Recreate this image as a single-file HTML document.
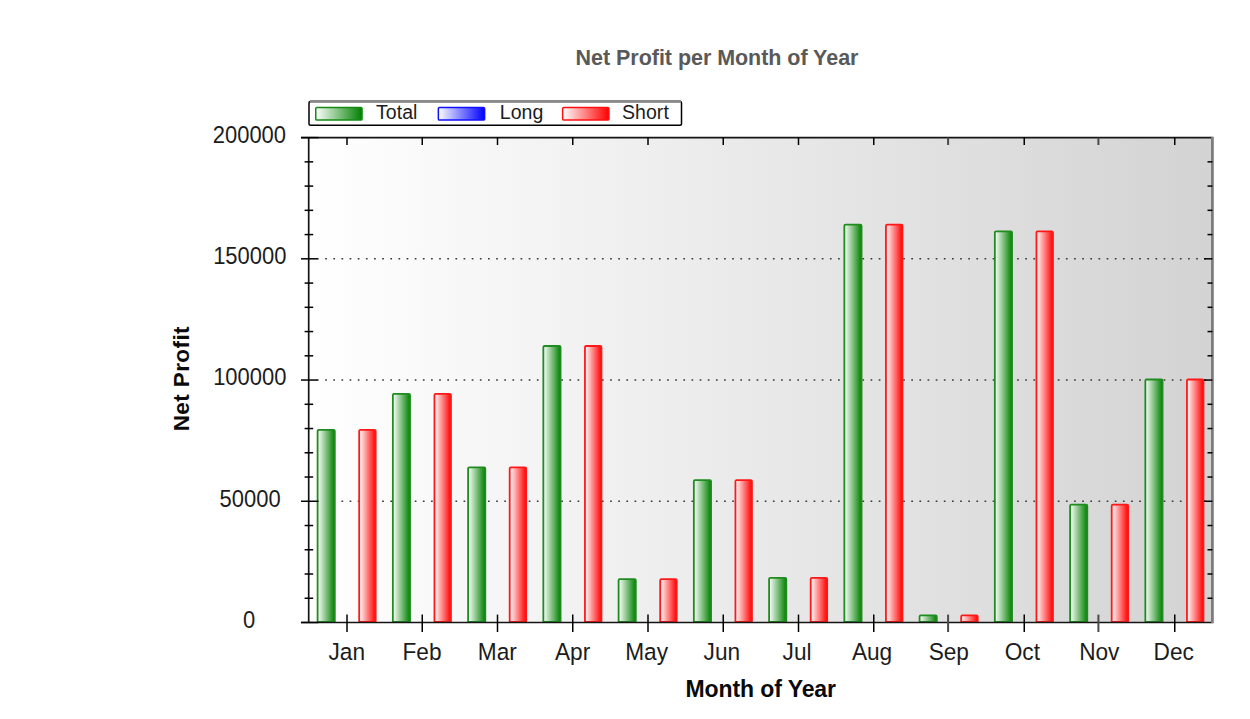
<!DOCTYPE html>
<html><head><meta charset="utf-8"><style>
html,body{margin:0;padding:0;background:#fff;}
svg{display:block;}
text{font-family:"Liberation Sans",sans-serif;}
.lab{font-size:23.5px;fill:#1c1c1c;}
.xlab{font-size:23.5px;fill:#1c1c1c;}
.ttl{font-size:23px;font-weight:bold;fill:#0a0a0a;}
.xt{letter-spacing:-0.1px;}
.yt{letter-spacing:0.4px;font-size:22.5px;}
.main{font-size:21.5px;font-weight:bold;fill:#595959;letter-spacing:-0.04px;}
.leg{font-size:19.5px;fill:#1c1c1c;letter-spacing:0.05px;}
</style></head><body>
<svg width="1250" height="719" viewBox="0 0 1250 719">
<defs>
<linearGradient id="bg" x1="0" y1="0" x2="1" y2="0"><stop offset="0" stop-color="#ffffff"/><stop offset="1" stop-color="#d3d3d3"/></linearGradient>
<linearGradient id="gg" x1="0" y1="0" x2="1" y2="0"><stop offset="0" stop-color="#ffffff"/><stop offset="1" stop-color="#008000"/></linearGradient>
<linearGradient id="gr" x1="0" y1="0" x2="1" y2="0"><stop offset="0" stop-color="#ffffff"/><stop offset="1" stop-color="#ff0000"/></linearGradient>
<linearGradient id="lg" x1="0" y1="0" x2="1" y2="0"><stop offset="0" stop-color="#ffffff"/><stop offset="1" stop-color="#008000"/></linearGradient>
<linearGradient id="lb" x1="0" y1="0" x2="1" y2="0"><stop offset="0" stop-color="#ffffff"/><stop offset="1" stop-color="#0000ff"/></linearGradient>
<linearGradient id="lr" x1="0" y1="0" x2="1" y2="0"><stop offset="0" stop-color="#ffffff"/><stop offset="1" stop-color="#ff0000"/></linearGradient>
</defs>
<rect width="1250" height="719" fill="#fff"/>
<rect x="308.7" y="137.6" width="903.7" height="484.9" fill="url(#bg)"/>
<line x1="325.2" y1="501.27" x2="1206" y2="501.27" stroke="#3a3a3a" stroke-width="1.5" stroke-dasharray="1.7 6.44"/>
<line x1="325.2" y1="380.05" x2="1206" y2="380.05" stroke="#3a3a3a" stroke-width="1.5" stroke-dasharray="1.7 6.44"/>
<line x1="325.2" y1="258.82" x2="1206" y2="258.82" stroke="#3a3a3a" stroke-width="1.5" stroke-dasharray="1.7 6.44"/>
<path d="M317.60 621.90 V431.10 Q317.60 429.90 318.80 429.90 H333.60 Q334.80 429.90 334.80 431.10 V621.90 Z" fill="url(#gg)" stroke="#1e8c1e" stroke-width="1.8"/>
<path d="M359.20 621.90 V431.10 Q359.20 429.90 360.40 429.90 H374.50 Q375.70 429.90 375.70 431.10 V621.90 Z" fill="url(#gr)" stroke="#ff1818" stroke-width="1.8"/>
<path d="M392.85 621.90 V395.10 Q392.85 393.90 394.05 393.90 H408.85 Q410.05 393.90 410.05 395.10 V621.90 Z" fill="url(#gg)" stroke="#1e8c1e" stroke-width="1.8"/>
<path d="M434.45 621.90 V395.10 Q434.45 393.90 435.65 393.90 H449.75 Q450.95 393.90 450.95 395.10 V621.90 Z" fill="url(#gr)" stroke="#ff1818" stroke-width="1.8"/>
<path d="M468.10 621.90 V468.50 Q468.10 467.30 469.30 467.30 H484.10 Q485.30 467.30 485.30 468.50 V621.90 Z" fill="url(#gg)" stroke="#1e8c1e" stroke-width="1.8"/>
<path d="M509.70 621.90 V468.50 Q509.70 467.30 510.90 467.30 H525.00 Q526.20 467.30 526.20 468.50 V621.90 Z" fill="url(#gr)" stroke="#ff1818" stroke-width="1.8"/>
<path d="M543.35 621.90 V347.20 Q543.35 346.00 544.55 346.00 H559.35 Q560.55 346.00 560.55 347.20 V621.90 Z" fill="url(#gg)" stroke="#1e8c1e" stroke-width="1.8"/>
<path d="M584.95 621.90 V347.20 Q584.95 346.00 586.15 346.00 H600.25 Q601.45 346.00 601.45 347.20 V621.90 Z" fill="url(#gr)" stroke="#ff1818" stroke-width="1.8"/>
<path d="M618.60 621.90 V580.30 Q618.60 579.10 619.80 579.10 H634.60 Q635.80 579.10 635.80 580.30 V621.90 Z" fill="url(#gg)" stroke="#1e8c1e" stroke-width="1.8"/>
<path d="M660.20 621.90 V580.30 Q660.20 579.10 661.40 579.10 H675.50 Q676.70 579.10 676.70 580.30 V621.90 Z" fill="url(#gr)" stroke="#ff1818" stroke-width="1.8"/>
<path d="M693.85 621.90 V481.30 Q693.85 480.10 695.05 480.10 H709.85 Q711.05 480.10 711.05 481.30 V621.90 Z" fill="url(#gg)" stroke="#1e8c1e" stroke-width="1.8"/>
<path d="M735.45 621.90 V481.30 Q735.45 480.10 736.65 480.10 H750.75 Q751.95 480.10 751.95 481.30 V621.90 Z" fill="url(#gr)" stroke="#ff1818" stroke-width="1.8"/>
<path d="M769.10 621.90 V579.00 Q769.10 577.80 770.30 577.80 H785.10 Q786.30 577.80 786.30 579.00 V621.90 Z" fill="url(#gg)" stroke="#1e8c1e" stroke-width="1.8"/>
<path d="M810.70 621.90 V579.00 Q810.70 577.80 811.90 577.80 H826.00 Q827.20 577.80 827.20 579.00 V621.90 Z" fill="url(#gr)" stroke="#ff1818" stroke-width="1.8"/>
<path d="M844.35 621.90 V225.90 Q844.35 224.70 845.55 224.70 H860.35 Q861.55 224.70 861.55 225.90 V621.90 Z" fill="url(#gg)" stroke="#1e8c1e" stroke-width="1.8"/>
<path d="M885.95 621.90 V225.90 Q885.95 224.70 887.15 224.70 H901.25 Q902.45 224.70 902.45 225.90 V621.90 Z" fill="url(#gr)" stroke="#ff1818" stroke-width="1.8"/>
<path d="M919.60 621.90 V616.60 Q919.60 615.40 920.80 615.40 H935.60 Q936.80 615.40 936.80 616.60 V621.90 Z" fill="url(#gg)" stroke="#1e8c1e" stroke-width="1.8"/>
<path d="M961.20 621.90 V616.60 Q961.20 615.40 962.40 615.40 H976.50 Q977.70 615.40 977.70 616.60 V621.90 Z" fill="url(#gr)" stroke="#ff1818" stroke-width="1.8"/>
<path d="M994.85 621.90 V232.50 Q994.85 231.30 996.05 231.30 H1010.85 Q1012.05 231.30 1012.05 232.50 V621.90 Z" fill="url(#gg)" stroke="#1e8c1e" stroke-width="1.8"/>
<path d="M1036.45 621.90 V232.50 Q1036.45 231.30 1037.65 231.30 H1051.75 Q1052.95 231.30 1052.95 232.50 V621.90 Z" fill="url(#gr)" stroke="#ff1818" stroke-width="1.8"/>
<path d="M1070.10 621.90 V505.90 Q1070.10 504.70 1071.30 504.70 H1086.10 Q1087.30 504.70 1087.30 505.90 V621.90 Z" fill="url(#gg)" stroke="#1e8c1e" stroke-width="1.8"/>
<path d="M1111.70 621.90 V505.90 Q1111.70 504.70 1112.90 504.70 H1127.00 Q1128.20 504.70 1128.20 505.90 V621.90 Z" fill="url(#gr)" stroke="#ff1818" stroke-width="1.8"/>
<path d="M1145.35 621.90 V380.70 Q1145.35 379.50 1146.55 379.50 H1161.35 Q1162.55 379.50 1162.55 380.70 V621.90 Z" fill="url(#gg)" stroke="#1e8c1e" stroke-width="1.8"/>
<path d="M1186.95 621.90 V380.70 Q1186.95 379.50 1188.15 379.50 H1202.25 Q1203.45 379.50 1203.45 380.70 V621.90 Z" fill="url(#gr)" stroke="#ff1818" stroke-width="1.8"/>
<line x1="301" y1="137.6" x2="1212.4" y2="137.6" stroke="#141414" stroke-width="1.7"/>
<line x1="301" y1="622.5" x2="1212.4" y2="622.5" stroke="#141414" stroke-width="1.7"/>
<line x1="308.7" y1="137.6" x2="308.7" y2="622.5" stroke="#141414" stroke-width="1.7"/>
<line x1="1212.4" y1="136.79999999999998" x2="1212.4" y2="623.3" stroke="#7d7d7d" stroke-width="2.8"/>
<line x1="301" y1="622.50" x2="318.5" y2="622.50" stroke="#000" stroke-width="1.5"/>
<line x1="304.6" y1="598.25" x2="313.2" y2="598.25" stroke="#000" stroke-width="1.5"/>
<line x1="1207.5" y1="598.25" x2="1212.4" y2="598.25" stroke="#000" stroke-width="1.5"/>
<line x1="304.6" y1="574.01" x2="313.2" y2="574.01" stroke="#000" stroke-width="1.5"/>
<line x1="1207.5" y1="574.01" x2="1212.4" y2="574.01" stroke="#000" stroke-width="1.5"/>
<line x1="304.6" y1="549.76" x2="313.2" y2="549.76" stroke="#000" stroke-width="1.5"/>
<line x1="1207.5" y1="549.76" x2="1212.4" y2="549.76" stroke="#000" stroke-width="1.5"/>
<line x1="304.6" y1="525.52" x2="313.2" y2="525.52" stroke="#000" stroke-width="1.5"/>
<line x1="1207.5" y1="525.52" x2="1212.4" y2="525.52" stroke="#000" stroke-width="1.5"/>
<line x1="301" y1="501.27" x2="318.5" y2="501.27" stroke="#000" stroke-width="1.5"/>
<line x1="1204" y1="501.27" x2="1212.4" y2="501.27" stroke="#000" stroke-width="1.5"/>
<line x1="304.6" y1="477.03" x2="313.2" y2="477.03" stroke="#000" stroke-width="1.5"/>
<line x1="1207.5" y1="477.03" x2="1212.4" y2="477.03" stroke="#000" stroke-width="1.5"/>
<line x1="304.6" y1="452.78" x2="313.2" y2="452.78" stroke="#000" stroke-width="1.5"/>
<line x1="1207.5" y1="452.78" x2="1212.4" y2="452.78" stroke="#000" stroke-width="1.5"/>
<line x1="304.6" y1="428.54" x2="313.2" y2="428.54" stroke="#000" stroke-width="1.5"/>
<line x1="1207.5" y1="428.54" x2="1212.4" y2="428.54" stroke="#000" stroke-width="1.5"/>
<line x1="304.6" y1="404.29" x2="313.2" y2="404.29" stroke="#000" stroke-width="1.5"/>
<line x1="1207.5" y1="404.29" x2="1212.4" y2="404.29" stroke="#000" stroke-width="1.5"/>
<line x1="301" y1="380.05" x2="318.5" y2="380.05" stroke="#000" stroke-width="1.5"/>
<line x1="1204" y1="380.05" x2="1212.4" y2="380.05" stroke="#000" stroke-width="1.5"/>
<line x1="304.6" y1="355.81" x2="313.2" y2="355.81" stroke="#000" stroke-width="1.5"/>
<line x1="1207.5" y1="355.81" x2="1212.4" y2="355.81" stroke="#000" stroke-width="1.5"/>
<line x1="304.6" y1="331.56" x2="313.2" y2="331.56" stroke="#000" stroke-width="1.5"/>
<line x1="1207.5" y1="331.56" x2="1212.4" y2="331.56" stroke="#000" stroke-width="1.5"/>
<line x1="304.6" y1="307.31" x2="313.2" y2="307.31" stroke="#000" stroke-width="1.5"/>
<line x1="1207.5" y1="307.31" x2="1212.4" y2="307.31" stroke="#000" stroke-width="1.5"/>
<line x1="304.6" y1="283.07" x2="313.2" y2="283.07" stroke="#000" stroke-width="1.5"/>
<line x1="1207.5" y1="283.07" x2="1212.4" y2="283.07" stroke="#000" stroke-width="1.5"/>
<line x1="301" y1="258.82" x2="318.5" y2="258.82" stroke="#000" stroke-width="1.5"/>
<line x1="1204" y1="258.82" x2="1212.4" y2="258.82" stroke="#000" stroke-width="1.5"/>
<line x1="304.6" y1="234.58" x2="313.2" y2="234.58" stroke="#000" stroke-width="1.5"/>
<line x1="1207.5" y1="234.58" x2="1212.4" y2="234.58" stroke="#000" stroke-width="1.5"/>
<line x1="304.6" y1="210.33" x2="313.2" y2="210.33" stroke="#000" stroke-width="1.5"/>
<line x1="1207.5" y1="210.33" x2="1212.4" y2="210.33" stroke="#000" stroke-width="1.5"/>
<line x1="304.6" y1="186.09" x2="313.2" y2="186.09" stroke="#000" stroke-width="1.5"/>
<line x1="1207.5" y1="186.09" x2="1212.4" y2="186.09" stroke="#000" stroke-width="1.5"/>
<line x1="304.6" y1="161.85" x2="313.2" y2="161.85" stroke="#000" stroke-width="1.5"/>
<line x1="1207.5" y1="161.85" x2="1212.4" y2="161.85" stroke="#000" stroke-width="1.5"/>
<line x1="301" y1="137.60" x2="318.5" y2="137.60" stroke="#000" stroke-width="1.5"/>
<line x1="347.00" y1="137.6" x2="347.00" y2="145" stroke="#000" stroke-width="1.5"/>
<line x1="347.00" y1="614.6" x2="347.00" y2="632" stroke="#000" stroke-width="1.5"/>
<line x1="422.25" y1="137.6" x2="422.25" y2="145" stroke="#000" stroke-width="1.5"/>
<line x1="422.25" y1="614.6" x2="422.25" y2="632" stroke="#000" stroke-width="1.5"/>
<line x1="497.50" y1="137.6" x2="497.50" y2="145" stroke="#000" stroke-width="1.5"/>
<line x1="497.50" y1="614.6" x2="497.50" y2="632" stroke="#000" stroke-width="1.5"/>
<line x1="572.75" y1="137.6" x2="572.75" y2="145" stroke="#000" stroke-width="1.5"/>
<line x1="572.75" y1="614.6" x2="572.75" y2="632" stroke="#000" stroke-width="1.5"/>
<line x1="648.00" y1="137.6" x2="648.00" y2="145" stroke="#000" stroke-width="1.5"/>
<line x1="648.00" y1="614.6" x2="648.00" y2="632" stroke="#000" stroke-width="1.5"/>
<line x1="723.25" y1="137.6" x2="723.25" y2="145" stroke="#000" stroke-width="1.5"/>
<line x1="723.25" y1="614.6" x2="723.25" y2="632" stroke="#000" stroke-width="1.5"/>
<line x1="798.50" y1="137.6" x2="798.50" y2="145" stroke="#000" stroke-width="1.5"/>
<line x1="798.50" y1="614.6" x2="798.50" y2="632" stroke="#000" stroke-width="1.5"/>
<line x1="873.75" y1="137.6" x2="873.75" y2="145" stroke="#000" stroke-width="1.5"/>
<line x1="873.75" y1="614.6" x2="873.75" y2="632" stroke="#000" stroke-width="1.5"/>
<line x1="948.10" y1="137.6" x2="948.10" y2="145" stroke="#4a4a4a" stroke-width="2.0"/>
<line x1="948.10" y1="614.6" x2="948.10" y2="632" stroke="#4a4a4a" stroke-width="2.0"/>
<line x1="1024.25" y1="137.6" x2="1024.25" y2="145" stroke="#000" stroke-width="1.5"/>
<line x1="1024.25" y1="614.6" x2="1024.25" y2="632" stroke="#000" stroke-width="1.5"/>
<line x1="1098.40" y1="137.6" x2="1098.40" y2="145" stroke="#4a4a4a" stroke-width="2.0"/>
<line x1="1098.40" y1="614.6" x2="1098.40" y2="632" stroke="#4a4a4a" stroke-width="2.0"/>
<line x1="1174.75" y1="137.6" x2="1174.75" y2="145" stroke="#000" stroke-width="1.5"/>
<line x1="1174.75" y1="614.6" x2="1174.75" y2="632" stroke="#000" stroke-width="1.5"/>
<text transform="translate(249.0 627.80) scale(0.935 1)" class="lab" text-anchor="middle">0</text>
<text transform="translate(250.1 506.57) scale(0.935 1)" class="lab" text-anchor="middle">50000</text>
<text transform="translate(249.8 385.35) scale(0.935 1)" class="lab" text-anchor="middle">100000</text>
<text transform="translate(249.8 264.12) scale(0.935 1)" class="lab" text-anchor="middle">150000</text>
<text transform="translate(249.4 142.90) scale(0.935 1)" class="lab" text-anchor="middle">200000</text>
<text transform="translate(346.80 659.9) scale(0.965 1)" class="xlab" text-anchor="middle">Jan</text>
<text transform="translate(422.05 659.9) scale(0.965 1)" class="xlab" text-anchor="middle">Feb</text>
<text transform="translate(497.30 659.9) scale(0.965 1)" class="xlab" text-anchor="middle">Mar</text>
<text transform="translate(572.55 659.9) scale(0.965 1)" class="xlab" text-anchor="middle">Apr</text>
<text transform="translate(646.60 659.9) scale(0.965 1)" class="xlab" text-anchor="middle">May</text>
<text transform="translate(721.85 659.9) scale(0.965 1)" class="xlab" text-anchor="middle">Jun</text>
<text transform="translate(797.10 659.9) scale(0.965 1)" class="xlab" text-anchor="middle">Jul</text>
<text transform="translate(872.05 659.9) scale(0.965 1)" class="xlab" text-anchor="middle">Aug</text>
<text transform="translate(948.80 659.9) scale(0.965 1)" class="xlab" text-anchor="middle">Sep</text>
<text transform="translate(1022.35 659.9) scale(0.965 1)" class="xlab" text-anchor="middle">Oct</text>
<text transform="translate(1099.30 659.9) scale(0.965 1)" class="xlab" text-anchor="middle">Nov</text>
<text transform="translate(1173.75 659.9) scale(0.965 1)" class="xlab" text-anchor="middle">Dec</text>
<text x="760.7" y="696.6" class="ttl xt" text-anchor="middle">Month of Year</text>
<text transform="translate(189.4 378.7) rotate(-90)" x="0" y="0" class="ttl yt" text-anchor="middle">Net Profit</text>
<text x="717" y="64.5" class="main" text-anchor="middle">Net Profit per Month of Year</text>
<path d="M310.5 101.5 H680 Q681.5 101.5 681.5 103 V124 Q681.5 125.2 680 125.2 H310.5 Q309 125.2 309 124 V103 Q309 101.5 310.5 101.5 Z" fill="#fff" stroke="#000" stroke-width="1.5"/>
<line x1="310" y1="101.4" x2="681" y2="101.4" stroke="#8a8a8a" stroke-width="2.6"/>
<rect x="315.75" y="107.6" width="46.3" height="12.5" rx="1.2" fill="url(#lg)" stroke="#138a13" stroke-width="1.5"/>
<rect x="438.35" y="107.6" width="46.3" height="12.5" rx="1.2" fill="url(#lb)" stroke="#1010ff" stroke-width="1.5"/>
<rect x="562.65" y="107.6" width="46.3" height="12.5" rx="1.2" fill="url(#lr)" stroke="#ff1010" stroke-width="1.5"/>
<text x="376" y="118.8" class="leg">Total</text>
<text x="499.8" y="118.8" class="leg">Long</text>
<text x="622.0" y="118.8" class="leg">Short</text>
</svg>
</body></html>
